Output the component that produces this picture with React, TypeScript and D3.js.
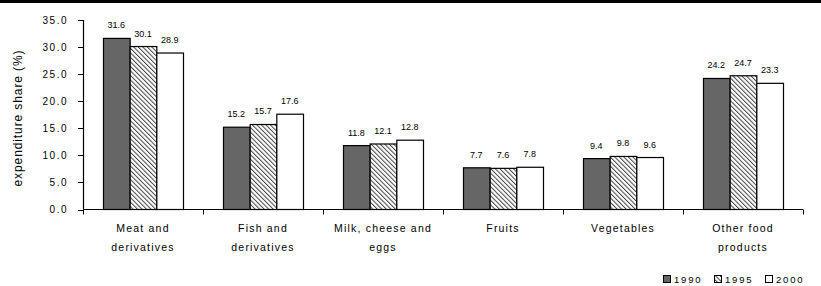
import React, { useEffect, useRef } from "react";
import * as d3 from "d3";

const categories: string[][] = [
  ["Meat and", "derivatives"],
  ["Fish and", "derivatives"],
  ["Milk, cheese and", "eggs"],
  ["Fruits"],
  ["Vegetables"],
  ["Other food", "products"],
];
const years = ["1990", "1995", "2000"];
const values1990 = [31.6, 15.2, 11.8, 7.7, 9.4, 24.2];
const values1995 = [30.1, 15.7, 12.1, 7.6, 9.8, 24.7];
const values2000 = [28.9, 17.6, 12.8, 7.8, 9.6, 23.3];
const yTicks = [0, 5, 10, 15, 20, 25, 30, 35];

const FONT = "'Liberation Sans', Arial, sans-serif";

const App: React.FC = () => {
  const svgRef = useRef<SVGSVGElement>(null);

  useEffect(() => {
    const width = 821;
    const height = 286;
    const svg = d3.select(svgRef.current).attr("width", width).attr("height", height);
    svg.selectAll("*").remove();

    const defs = svg.append("defs");
    const pat = defs
      .append("pattern")
      .attr("id", "hatch")
      .attr("patternUnits", "userSpaceOnUse")
      .attr("width", 3.2)
      .attr("height", 3.2)
      .attr("patternTransform", "rotate(-45)");
    pat.append("rect").attr("width", 3.2).attr("height", 3.2).attr("fill", "#fff");
    pat
      .append("line")
      .attr("x1", 0.5)
      .attr("y1", 0)
      .attr("x2", 0.5)
      .attr("y2", 3.2)
      .attr("stroke", "#444")
      .attr("stroke-width", 1);

    const fills = ["#666666", "url(#hatch)", "#ffffff"];
    const series = [values1990, values1995, values2000];

    // top rule
    svg.append("rect").attr("x", 0).attr("y", 0).attr("width", width).attr("height", 3).attr("fill", "#000");

    const keys = categories.map((c) => c.join(" "));
    const x0 = d3.scaleBand<string>().domain(keys).range([83, 803]);
    const x1 = d3.scaleBand<string>().domain(years).range([20, 100]);
    const y = d3.scaleLinear().domain([0, 35]).range([209.5, 20]);

    const g = svg.append("g");

    // bars
    keys.forEach((k, i) => {
      years.forEach((yr, j) => {
        const v = series[j][i];
        const bx = (x0(k) || 0) + (x1(yr) || 0);
        g.append("rect")
          .attr("x", bx + 0.5)
          .attr("y", y(v))
          .attr("width", x1.bandwidth())
          .attr("height", y(0) - y(v))
          .attr("fill", fills[j])
          .attr("stroke", "#000")
          .attr("stroke-width", 1.2);
        g.append("text")
          .attr("x", bx + x1.bandwidth() / 2)
          .attr("y", y(v) - 10)
          .attr("text-anchor", "middle")
          .attr("font-family", FONT)
          .attr("font-size", 9)
          .text(d3.format(".1f")(v));
      });
    });

    // y axis
    g.append("line")
      .attr("x1", 83.5).attr("x2", 83.5)
      .attr("y1", y(35)).attr("y2", y(0))
      .attr("stroke", "#000").attr("stroke-width", 1.2);
    yTicks.forEach((t) => {
      g.append("line")
        .attr("x1", 78).attr("x2", 83.5)
        .attr("y1", Math.round(y(t)) + 0.5).attr("y2", Math.round(y(t)) + 0.5)
        .attr("stroke", "#000");
      g.append("text")
        .attr("x", 68)
        .attr("y", y(t) + 3.5)
        .attr("text-anchor", "end")
        .attr("font-family", FONT)
        .attr("font-size", 10)
        .attr("letter-spacing", 1.5)
        .text(d3.format(".1f")(t));
    });

    // x axis
    g.append("line")
      .attr("x1", 83).attr("x2", 803)
      .attr("y1", y(0)).attr("y2", y(0))
      .attr("stroke", "#000").attr("stroke-width", 1.2);
    const bounds = keys.map((k) => x0(k) || 0).concat([803]);
    bounds.forEach((bx) => {
      g.append("line")
        .attr("x1", bx + 0.5).attr("x2", bx + 0.5)
        .attr("y1", y(0)).attr("y2", y(0) + 5)
        .attr("stroke", "#000");
    });

    categories.forEach((lines, i) => {
      const cx = (x0(keys[i]) || 0) + x0.bandwidth() / 2;
      lines.forEach((ln, li) => {
        g.append("text")
          .attr("x", cx)
          .attr("y", 232 + li * 19)
          .attr("text-anchor", "middle")
          .attr("font-family", FONT)
          .attr("font-size", 10.5)
          .attr("letter-spacing", 1.2)
          .text(ln);
      });
    });

    // y axis title
    g.append("text")
      .attr("transform", "translate(22,118) rotate(-90)")
      .attr("text-anchor", "middle")
      .attr("font-family", FONT)
      .attr("font-size", 12)
      .attr("letter-spacing", 0.9)
      .text("expenditure share (%)");

    // legend
    const legendX = [663, 714, 765];
    years.forEach((yr, j) => {
      g.append("rect")
        .attr("x", legendX[j] + 0.5)
        .attr("y", 275.5)
        .attr("width", 7)
        .attr("height", 7)
        .attr("fill", fills[j])
        .attr("stroke", "#000");
      g.append("text")
        .attr("x", legendX[j] + 11)
        .attr("y", 282.5)
        .attr("font-family", FONT)
        .attr("font-size", 9.5)
        .attr("letter-spacing", 1.8)
        .text(yr);
    });
  }, []);

  return (
    <div style={{ position: "absolute", left: 0, top: 0, background: "#fff" }}>
      <svg ref={svgRef} style={{ display: "block" }}></svg>
    </div>
  );
};

export default App;
